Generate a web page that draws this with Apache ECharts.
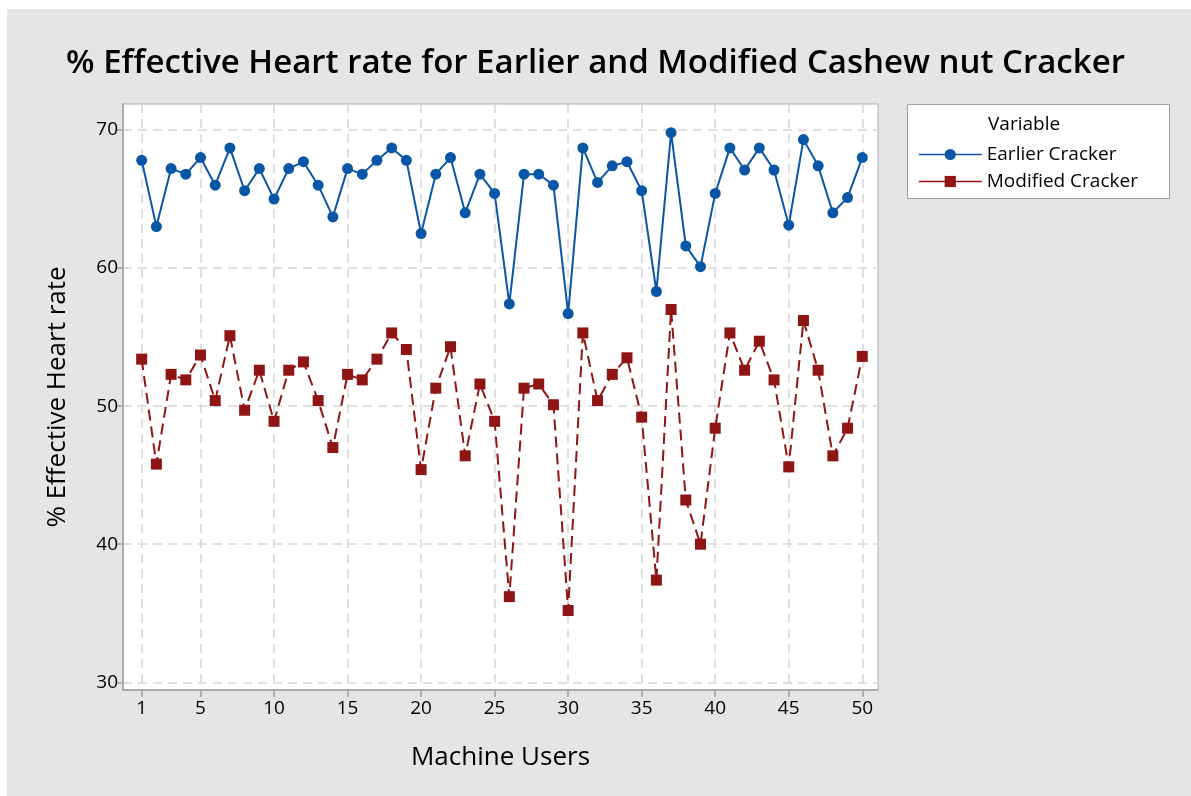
<!DOCTYPE html>
<html>
<head>
<meta charset="utf-8">
<script src="https://cdn.jsdelivr.net/npm/echarts@6/dist/echarts.min.js"></script>
<style>
html,body{margin:0;padding:0;background:#fff;}
#chart{width:1191px;height:796px;}
</style>
</head>
<body>
<div id="chart"></div>
<script>
const users = Array.from({length: 50}, (_, i) => i + 1);
const earlier = [67.8, 63.0, 67.2, 66.8, 68.0, 66.0, 68.7, 65.6, 67.2, 65.0,
                 67.2, 67.7, 66.0, 63.7, 67.2, 66.8, 67.8, 68.7, 67.8, 62.5,
                 66.8, 68.0, 64.0, 66.8, 65.4, 57.4, 66.8, 66.8, 66.0, 56.7,
                 68.7, 66.2, 67.4, 67.7, 65.6, 58.3, 69.8, 61.6, 60.1, 65.4,
                 68.7, 67.1, 68.7, 67.1, 63.1, 69.3, 67.4, 64.0, 65.1, 68.0];
const modified = [53.4, 45.8, 52.3, 51.9, 53.7, 50.4, 55.1, 49.7, 52.6, 48.9,
                  52.6, 53.2, 50.4, 47.0, 52.3, 51.9, 53.4, 55.3, 54.1, 45.4,
                  51.3, 54.3, 46.4, 51.6, 48.9, 36.2, 51.3, 51.6, 50.1, 35.2,
                  55.3, 50.4, 52.3, 53.5, 49.2, 37.4, 57.0, 43.2, 40.0, 48.4,
                  55.3, 52.6, 54.7, 51.9, 45.6, 56.2, 52.6, 46.4, 48.4, 53.6];
const xTicks = [1, 5, 10, 15, 20, 25, 30, 35, 40, 45, 50];
const yTicks = [30, 40, 50, 60, 70];

const FONT = '"Open Sans", "Noto Sans", sans-serif';
const chart = echarts.init(document.getElementById('chart'));
const gridLine = {show: true, lineStyle: {color: '#d6d6d6', type: [9, 6], width: 1.5}};
chart.setOption({
  backgroundColor: '#e5e5e5',
  textStyle: {fontFamily: FONT},
  graphic: [
    {type: 'rect', shape: {x: 0, y: 0, width: 1191, height: 9}, style: {fill: '#fff'}, z: -10, silent: true},
    {type: 'rect', shape: {x: 0, y: 0, width: 7, height: 796}, style: {fill: '#fff'}, z: -10, silent: true},
    {type: 'rect', shape: {x: 907.5, y: 104.5, width: 262, height: 94}, style: {fill: '#fff', stroke: '#a0a0a0', lineWidth: 1}, z: -1, silent: true},
    {type: 'text', left: 988, top: 115, style: {text: 'Variable', fontSize: 19, fontFamily: FONT, fill: '#000'}, silent: true}
  ],
  title: {
    text: '% Effective Heart rate for Earlier and Modified Cashew nut Cracker',
    left: 'center', top: 42,
    textStyle: {fontSize: 33, fontWeight: 600, color: '#000', fontFamily: FONT}
  },
  legend: {
    orient: 'vertical', left: 913, top: 140, itemWidth: 63, itemHeight: 14, itemGap: 8,
    textStyle: {fontSize: 19, color: '#000', fontFamily: FONT},
    lineStyle: {type: 'solid', width: 1.5},
    data: ['Earlier Cracker', 'Modified Cracker']
  },
  grid: {left: 123, top: 104, width: 755, height: 586, show: true, backgroundColor: '#fff', borderColor: '#b0b0b0', borderWidth: 1},
  xAxis: {
    type: 'value', min: -0.27, max: 51.07,
    name: 'Machine Users', nameLocation: 'middle', nameGap: 55,
    nameTextStyle: {fontSize: 26, color: '#000', fontFamily: FONT},
    axisLine: {show: true, onZero: false, lineStyle: {color: '#a0a0a0', width: 1.5}},
    axisTick: {show: true, length: 7, customValues: xTicks, lineStyle: {color: '#a0a0a0', width: 1.5}},
    axisLabel: {customValues: xTicks, fontSize: 19, color: '#000', margin: 9, fontFamily: FONT},
    splitLine: gridLine
  },
  yAxis: {
    type: 'value', min: 29.44, max: 71.88,
    name: '% Effective Heart rate', nameLocation: 'middle', nameGap: 52, nameRotate: 90,
    nameTextStyle: {fontSize: 26, color: '#000', fontFamily: FONT},
    axisLine: {show: true, onZero: false, lineStyle: {color: '#a0a0a0', width: 1.5}},
    axisTick: {show: true, length: 7, customValues: yTicks, lineStyle: {color: '#a0a0a0', width: 1.5}},
    axisLabel: {customValues: yTicks, fontSize: 19, color: '#000', margin: 5, fontFamily: FONT},
    splitLine: gridLine
  },
  series: [
    {
      name: 'Earlier Cracker', type: 'line',
      data: users.map((u, i) => [u, earlier[i]]),
      symbol: 'circle', symbolSize: 11,
      itemStyle: {color: '#0a56a6'},
      lineStyle: {color: '#0a56a6', width: 2},
      emphasis: {disabled: true}, animation: false
    },
    {
      name: 'Modified Cracker', type: 'line',
      data: users.map((u, i) => [u, modified[i]]),
      symbol: 'rect', symbolSize: 11,
      itemStyle: {color: '#8f1414'},
      lineStyle: {color: '#8f1414', width: 2, type: [11, 6]},
      emphasis: {disabled: true}, animation: false
    }
  ]
});
</script>
</body>
</html>
